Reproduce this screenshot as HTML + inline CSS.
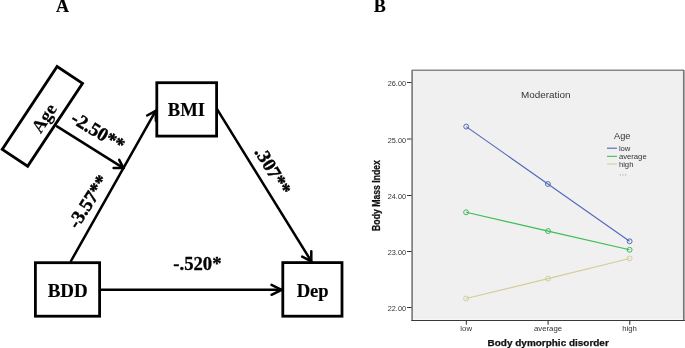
<!DOCTYPE html>
<html><head><meta charset="utf-8"><style>
html,body{margin:0;padding:0;background:#fff;width:685px;height:348px;overflow:hidden}
svg{display:block;will-change:transform}
.sb{font-family:"Liberation Serif",serif;font-weight:bold;fill:#000;stroke:#000;stroke-width:0.15px}
.rt{stroke-width:0.45px}
.hz{stroke-width:0.3px}
.ss{font-family:"Liberation Sans",sans-serif;fill:#333}
</style></head><body>
<svg width="685" height="348" viewBox="0 0 685 348">
<!-- Panel labels -->
<text class="sb" x="62.6" y="11.7" font-size="18" text-anchor="middle">A</text>
<text class="sb" x="379.8" y="11.7" font-size="18" text-anchor="middle">B</text>

<!-- Age box -->
<g transform="translate(42.75,116.6) rotate(-56.5)">
  <rect x="-49.7" y="-15.7" width="99.4" height="30.5" fill="none" stroke="#000" stroke-width="2.8"/>
  <text class="sb" x="-0.6" y="8.0" font-size="18.4" text-anchor="middle">Age</text>
</g>

<!-- BMI box -->
<rect x="156.8" y="82.7" width="59.8" height="53.4" fill="none" stroke="#000" stroke-width="2.8"/>
<text class="sb" x="186.4" y="116" font-size="18.6" text-anchor="middle">BMI</text>

<!-- BDD box -->
<rect x="35.4" y="262.7" width="64.2" height="53.5" fill="none" stroke="#000" stroke-width="2.8"/>
<text class="sb" x="67.7" y="297.1" font-size="19" text-anchor="middle">BDD</text>

<!-- Dep box -->
<rect x="282.8" y="262.6" width="59.2" height="53.6" fill="none" stroke="#000" stroke-width="2.8"/>
<text class="sb" x="312.7" y="296.8" font-size="18.6" text-anchor="middle">Dep</text>

<!-- arrows -->
<g stroke="#000" stroke-width="2.5" fill="none" stroke-linecap="round" stroke-linejoin="round">
  <line x1="57" y1="126.4" x2="123.5" y2="168.1"/>
  <polyline points="113.6,168.1 123.5,168.1 119.2,159.9"/>
  <line x1="71" y1="261" x2="155.7" y2="110.9"/>
  <polyline points="147.1,115.5 155.7,110.9 155.9,120.8"/>
  <line x1="217.2" y1="109.4" x2="311.3" y2="261.3"/>
  <polyline points="311.3,251.3 311.3,261.3 302.2,256.6"/>
  <line x1="101" y1="289.8" x2="281.6" y2="289.8"/>
  <polyline points="271.5,284.8 281.6,289.8 271.5,294.8"/>
</g>

<!-- path coefficient labels -->
<g transform="translate(98.2,131.4) rotate(31)"><text class="sb rt" x="0" y="6.4" font-size="19" text-anchor="middle">-2.50**</text></g>
<g transform="translate(87.9,201.5) rotate(-57.5)"><text class="sb rt" x="0" y="6.4" font-size="19" text-anchor="middle">-3.57**</text></g>
<g transform="translate(273.0,170.8) rotate(59)"><text class="sb rt" x="0" y="6.4" font-size="19" text-anchor="middle">.307**</text></g>
<text class="sb hz" x="197.4" y="270" font-size="18.7" text-anchor="middle">-.520*</text>

<!-- Chart B -->
<rect x="412.2" y="70.4" width="271.6" height="249.6" fill="#f0f0f0"/>
<rect x="413" y="318.9" width="270" height="1.1" fill="#f8f8f8"/>
<line x1="412" y1="70.2" x2="684" y2="70.2" stroke="#888" stroke-width="1.5"/>
<line x1="683.8" y1="70" x2="683.8" y2="320.5" stroke="#777" stroke-width="1.7"/>
<line x1="412.1" y1="70" x2="412.1" y2="320.5" stroke="#777" stroke-width="1.6"/>
<rect x="411.3" y="320" width="273.5" height="1" fill="#383838"/>

<!-- ticks -->
<g stroke="#383838" stroke-width="1">
  <line x1="407" y1="82.5" x2="411.5" y2="82.5"/>
  <line x1="407" y1="139" x2="411.5" y2="139"/>
  <line x1="407" y1="195.5" x2="411.5" y2="195.5"/>
  <line x1="407" y1="251.5" x2="411.5" y2="251.5"/>
  <line x1="407" y1="307.5" x2="411.5" y2="307.5"/>
</g>
<g stroke="#555" stroke-width="1.3">
  <line x1="466.4" y1="321" x2="466.4" y2="324.7"/>
  <line x1="548.1" y1="321" x2="548.1" y2="324.7"/>
  <line x1="629.7" y1="321" x2="629.7" y2="324.7"/>
</g>
<g class="ss" font-size="7.3" text-anchor="end">
  <text x="406" y="86.0">26.00</text>
  <text x="406" y="142.5">25.00</text>
  <text x="406" y="199.0">24.00</text>
  <text x="406" y="255.0">23.00</text>
  <text x="406" y="311.0">22.00</text>
</g>
<g class="ss" font-size="7.8" text-anchor="middle">
  <text x="466.2" y="331">low</text>
  <text x="548" y="331">average</text>
  <text x="629.6" y="331">high</text>
</g>
<text class="ss" x="487.6" y="345.8" font-size="9" font-weight="bold" textLength="121.2" lengthAdjust="spacingAndGlyphs" style="fill:#111;stroke:#111;stroke-width:0.25px">Body dymorphic disorder</text>
<g transform="translate(380.2,230.9) rotate(-90)"><text class="ss" x="0" y="0" font-size="10" font-weight="bold" textLength="70.8" lengthAdjust="spacingAndGlyphs" style="fill:#111;stroke:#111;stroke-width:0.25px">Body Mass Index</text></g>

<text class="ss" x="521.1" y="98.1" font-size="9.9">Moderation</text>
<text class="ss" x="614.1" y="139.4" font-size="9.2">Age</text>
<line x1="607" y1="148.2" x2="617" y2="148.2" stroke="#3e58ac" stroke-width="1"/>
<line x1="607" y1="156.3" x2="617" y2="156.3" stroke="#2eb848" stroke-width="1"/>
<line x1="607" y1="164" x2="617" y2="164" stroke="#d3ce97" stroke-width="1"/>
<g class="ss" font-size="7.7">
  <text x="618.9" y="151.3">low</text>
  <text x="618.9" y="159.3">average</text>
  <text x="618.9" y="167.2">high</text>
</g>
<g fill="#b8b8b8"><rect x="619.9" y="174.1" width="1" height="1.6"/><rect x="622.5" y="174.1" width="1" height="1.6"/><rect x="625.2" y="174.1" width="1" height="1.6"/></g>

<!-- data -->
<g fill="none" stroke-width="1.15">
  <polyline stroke="#5468bb" points="466.2,126.6 547.9,184 629.6,241.3"/>
  <polyline stroke="#3cbc54" points="466.1,212.3 548.1,231.1 629.6,249.8"/>
  <polyline stroke="#d3ce97" points="466.1,298.5 548.1,278.6 629.6,258.5"/>
  <g stroke="#5468bb" stroke-width="1"><circle cx="466.2" cy="126.6" r="2.45"/><circle cx="547.9" cy="184" r="2.45"/><circle cx="629.6" cy="241.3" r="2.45"/></g>
  <g stroke="#3cbc54" stroke-width="1"><circle cx="466.1" cy="212.3" r="2.45"/><circle cx="548.1" cy="231.1" r="2.45"/><circle cx="629.6" cy="249.8" r="2.45"/></g>
  <g stroke="#d3ce97" stroke-width="1"><circle cx="466.1" cy="298.5" r="2.45"/><circle cx="548.1" cy="278.6" r="2.45"/><circle cx="629.6" cy="258.5" r="2.45"/></g>
</g>
</svg>
</body></html>
